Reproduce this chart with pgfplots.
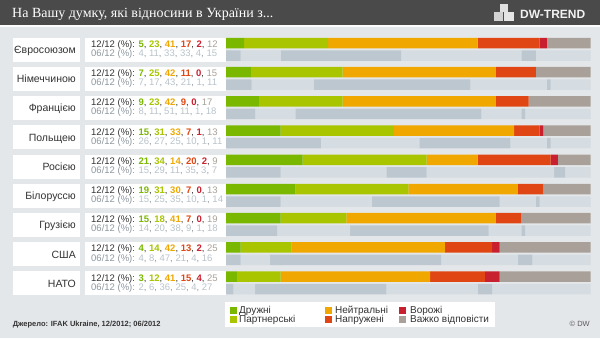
\documentclass[border=0pt]{standalone}
\usepackage{pgfplots}
\pgfplotsset{compat=1.18}
\usepackage{pgfplotstable}
\usepackage{fontspec}
\setmainfont{Liberation Sans}
\newfontfamily\titlefont{Liberation Serif}
\definecolor{bg}{HTML}{E4E7EA}
\definecolor{titlebar}{HTML}{4A4A4A}
\definecolor{cA}{HTML}{7AB800}
\definecolor{cB}{HTML}{A9C500}
\definecolor{cC}{HTML}{F0A800}
\definecolor{cD}{HTML}{E04614}
\definecolor{cE}{HTML}{C8202E}
\definecolor{cF}{HTML}{A9A199}
\definecolor{gD}{HTML}{BCC7CF}
\definecolor{gL}{HTML}{D5DCE2}
\definecolor{txt}{HTML}{333333}
\definecolor{oldlab}{HTML}{8E989F}
\definecolor{oldnum}{HTML}{B9C3CA}

% 12/12 survey
\pgfplotstableread{
y a b c d e f
43.0 5 23 41 17 2 12
72.2 7 25 42 11 0 15
101.4 9 23 42 9 0 17
130.6 15 31 33 7 1 13
159.8 21 34 14 20 2 9
189.0 19 31 30 7 0 13
218.2 15 18 41 7 0 19
247.4 4 14 42 13 2 25
276.6 3 12 41 15 4 25
}\newdata
% 06/12 survey
\pgfplotstableread{
y a b c d e f
55.5 4 11 33 33 4 15
84.7 7 17 43 21 1 11
113.9 8 11 51 11 1 18
143.1 26 27 25 10 1 11
172.3 15 29 11 35 3 7
201.5 15 25 35 10 1 14
230.7 14 20 38 9 1 18
259.9 4 8 47 21 4 16
289.1 2 6 36 25 4 27
}\olddata

\pgfplotsset{barax/.style={
  at={(226pt,0pt)}, anchor=south west,
  scale only axis, width=364.7pt, height=338pt,
  xmin=0, xmax=100, ymin=0, ymax=338, y dir=reverse,
  hide axis, xbar stacked, bar width=10.5,
  every axis plot/.append style={draw=none}
}}

\newcommand\nw[6]{12/12 (\%): \textbf{\textcolor{cA}{#1}}, \textbf{\textcolor{cB}{#2}}, \textbf{\textcolor{cC}{#3}}, \textbf{\textcolor{cD}{#4}}, \textbf{\textcolor{cE}{#5}}, \textcolor{cF}{#6}}
\newcommand\od[6]{06/12 (\%): \textcolor{oldnum}{#1}, \textcolor{oldnum}{#2}, \textcolor{oldnum}{#3}, \textcolor{oldnum}{#4}, \textcolor{oldnum}{#5}, \textcolor{oldnum}{#6}}

\begin{document}
\begin{tikzpicture}
\fill[bg] (0,0) rectangle (600pt,338pt);
\begin{scope}[shift={(0pt,338pt)}, x=1pt, y=-1pt]
  \fill[titlebar] (0,0) rectangle (600,25.5);
  \fill[white!92!bg] (0,25.5) rectangle (600,27);
  \node[anchor=base west, text=white, font=\titlefont\fontsize{14}{16}\selectfont, inner sep=0] at (12,17.8) {На Вашу думку, які відносини в України з...};
  % logo cubes
  \fill[gray!25] (500,4) rectangle (508,12);
  \fill[gray!35] (494,12) rectangle (503,21);
  \fill[gray!20] (504,12) rectangle (514,21);
  \node[anchor=base west, text=white!90!gray, font=\bfseries\fontsize{12}{14}\selectfont, inner sep=0] at (520,18.3) {DW-TR\raisebox{0pt}{E}ND};
  % row boxes
  \foreach \i in {0,...,8}{
    \fill[white] (12.7,{37.7+29.2*\i}) rectangle (79.5,{61.7+29.2*\i});
    \fill[white] (85,{37.7+29.2*\i}) rectangle (226,{61.7+29.2*\i});
  }
  % legend box
  \fill[white] (225,302) rectangle (495,327);
  \fill[cA] (230,306.5) rectangle (237,313.5);
  \fill[cB] (230,315.5) rectangle (237,322.5);
  \fill[cC] (325,306.5) rectangle (332,313.5);
  \fill[cD] (325,315.5) rectangle (332,322.5);
  \fill[cE] (399,306.5) rectangle (406,313.5);
  \fill[cF] (399,315.5) rectangle (406,322.5);
  \begin{scope}[every node/.style={anchor=base west, inner sep=0, text=txt, font=\fontsize{10}{12}\selectfont}]
    \node at (239,313.6) {Дружні};
    \node at (239,322.6) {Партнерські};
    \node at (335,313.6) {Нейтральні};
    \node at (335,322.6) {Напружені};
    \node at (410,313.6) {Ворожі};
    \node at (410,322.6) {Важко відповісти};
  \end{scope}
  \node[anchor=base west, inner sep=0, text=txt, font=\bfseries\fontsize{7.5}{9}\selectfont] at (12.7,326.8) {Джерело: IFAK Ukraine, 12/2012; 06/2012};
  \node[anchor=base east, inner sep=0, text=txt!80, font=\fontsize{7.5}{9}\selectfont] at (590,326.8) {© DW};
  % country labels
  \begin{scope}[every node/.style={anchor=base east, inner sep=0, text=txt, font=\fontsize{10.5}{12}\selectfont}]
    \node at (76,53.6) {Євросоюзом};
    \node at (76,82.8) {Німеччиною};
    \node at (76,112.0) {Францією};
    \node at (76,141.2) {Польщею};
    \node at (76,170.4) {Росією};
    \node at (76,199.6) {Білоруссю};
    \node at (76,228.8) {Грузією};
    \node at (76,258.0) {США};
    \node at (76,287.2) {НАТО};
  \end{scope}
  % value texts
  \begin{scope}[every node/.style={anchor=base west, inner sep=0, text=txt, font=\fontsize{9.5}{11}\selectfont}]
    \node at (91,47.4) {\nw{5}{23}{41}{17}{2}{12}};
    \node at (91,76.6) {\nw{7}{25}{42}{11}{0}{15}};
    \node at (91,105.8) {\nw{9}{23}{42}{9}{0}{17}};
    \node at (91,135.0) {\nw{15}{31}{33}{7}{1}{13}};
    \node at (91,164.2) {\nw{21}{34}{14}{20}{2}{9}};
    \node at (91,193.4) {\nw{19}{31}{30}{7}{0}{13}};
    \node at (91,222.6) {\nw{15}{18}{41}{7}{0}{19}};
    \node at (91,251.8) {\nw{4}{14}{42}{13}{2}{25}};
    \node at (91,281.0) {\nw{3}{12}{41}{15}{4}{25}};
  \end{scope}
  \begin{scope}[every node/.style={anchor=base west, inner sep=0, text=oldlab, font=\fontsize{9.5}{11}\selectfont}]
    \node at (91,56.6) {\od{4}{11}{33}{33}{4}{15}};
    \node at (91,85.8) {\od{7}{17}{43}{21}{1}{11}};
    \node at (91,115.0) {\od{8}{11}{51}{11}{1}{18}};
    \node at (91,144.2) {\od{26}{27}{25}{10}{1}{11}};
    \node at (91,173.4) {\od{15}{29}{11}{35}{3}{7}};
    \node at (91,202.6) {\od{15}{25}{35}{10}{1}{14}};
    \node at (91,231.8) {\od{14}{20}{38}{9}{1}{18}};
    \node at (91,261.0) {\od{4}{8}{47}{21}{4}{16}};
    \node at (91,290.2) {\od{2}{6}{36}{25}{4}{27}};
  \end{scope}
\end{scope}

\begin{axis}[barax]
  \addplot[fill=cA] table[x=a,y=y] {\newdata};
  \addplot[fill=cB] table[x=b,y=y] {\newdata};
  \addplot[fill=cC] table[x=c,y=y] {\newdata};
  \addplot[fill=cD] table[x=d,y=y] {\newdata};
  \addplot[fill=cE] table[x=e,y=y] {\newdata};
  \addplot[fill=cF] table[x=f,y=y] {\newdata};
\end{axis}
\begin{axis}[barax]
  \addplot[fill=gD] table[x=a,y=y] {\olddata};
  \addplot[fill=gL] table[x=b,y=y] {\olddata};
  \addplot[fill=gD] table[x=c,y=y] {\olddata};
  \addplot[fill=gL] table[x=d,y=y] {\olddata};
  \addplot[fill=gD] table[x=e,y=y] {\olddata};
  \addplot[fill=gL] table[x=f,y=y] {\olddata};
\end{axis}
\end{tikzpicture}
\end{document}
